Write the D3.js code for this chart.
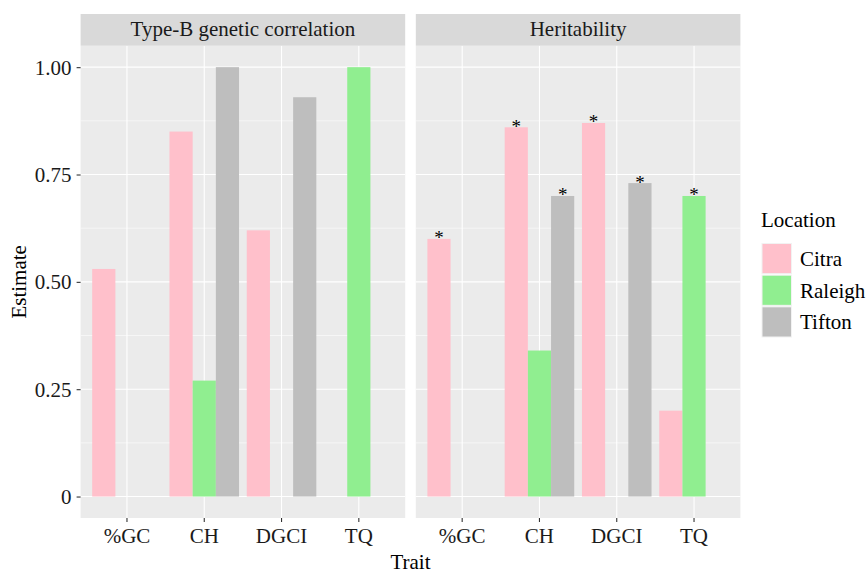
<!DOCTYPE html>
<html>
<head>
<meta charset="utf-8">
<script src="https://cdn.jsdelivr.net/npm/d3@7"></script>
<style>
html,body{margin:0;padding:0;background:#fff;}
</style>
</head>
<body>
<svg id="chart" width="867" height="573"></svg>
<script>
// ---- data ----
const traits = ["%GC", "CH", "DGCI", "TQ"];
const locations = ["Citra", "Raleigh", "Tifton"];
const facets = ["Type-B genetic correlation", "Heritability"];
const colors = ["#FFC0CB", "#90EE90", "#BEBEBE"];
// values by location, in trait order (null = no bar)
const typeB_Citra   = [0.53, 0.85, 0.62, null];
const typeB_Raleigh = [null, 0.27, null, 1.00];
const typeB_Tifton  = [null, 1.00, 0.93, null];
const herit_Citra   = [0.60, 0.86, 0.87, 0.20];
const herit_Raleigh = [null, 0.34, null, 0.70];
const herit_Tifton  = [null, 0.70, 0.73, null];
// significance labels
const typeB_sig_Citra   = ["", "", "", ""];
const typeB_sig_Raleigh = ["", "", "", ""];
const typeB_sig_Tifton  = ["", "", "", ""];
const herit_sig_Citra   = ["*", "*", "*", ""];
const herit_sig_Raleigh = ["", "", "", "*"];
const herit_sig_Tifton  = ["", "*", "*", ""];
const yTicks = [0, 0.25, 0.5, 0.75, 1.0];
const yTickLabels = ["0", "0.25", "0.50", "0.75", "1.00"];
const yMinor = [0.125, 0.375, 0.625, 0.875];

const facetValues = [
  [typeB_Citra, typeB_Raleigh, typeB_Tifton],
  [herit_Citra, herit_Raleigh, herit_Tifton]
];
const facetSig = [
  [typeB_sig_Citra, typeB_sig_Raleigh, typeB_sig_Tifton],
  [herit_sig_Citra, herit_sig_Raleigh, herit_sig_Tifton]
];

// ---- layout ----
const FONT = "'Liberation Serif', 'Times New Roman', Times, serif";
const svg = d3.select("#chart");
const FS = 21;
const panelTop = 45.7, panelBottom = 518;
const stripTop = 14;
const panelX = [80.6, 415.8];
const panelW = 324.6;

const y = d3.scaleLinear().domain([-0.05, 1.05]).range([panelBottom, panelTop]);

facets.forEach((fname, fi) => {
  const x0 = panelX[fi];
  const x = d3.scaleBand().domain(traits).range([x0, x0 + panelW])
    .paddingInner(0).paddingOuter(0.1);
  const step = x.step();
  const dodge = d3.scaleBand().domain(locations).range([-0.45 * step, 0.45 * step]);

  const g = svg.append("g");
  g.append("rect").attr("x", x0).attr("y", panelTop).attr("width", panelW)
    .attr("height", panelBottom - panelTop).attr("fill", "#EBEBEB");
  g.selectAll("line.minor").data(yMinor).enter().append("line")
    .attr("x1", x0).attr("x2", x0 + panelW)
    .attr("y1", d => y(d)).attr("y2", d => y(d))
    .attr("stroke", "#fff").attr("stroke-width", 0.55);
  g.selectAll("line.majy").data(yTicks).enter().append("line")
    .attr("x1", x0).attr("x2", x0 + panelW)
    .attr("y1", d => y(d)).attr("y2", d => y(d))
    .attr("stroke", "#fff").attr("stroke-width", 1.1);
  g.selectAll("line.majx").data(traits).enter().append("line")
    .attr("x1", d => x(d) + step / 2).attr("x2", d => x(d) + step / 2)
    .attr("y1", panelTop).attr("y2", panelBottom)
    .attr("stroke", "#fff").attr("stroke-width", 1.1);

  const bars = [];
  locations.forEach((loc, li) => {
    traits.forEach((t, ti) => {
      const v = facetValues[fi][li][ti];
      if (v !== null) bars.push({t, loc, li, v, sig: facetSig[fi][li][ti]});
    });
  });
  g.selectAll("rect.bar").data(bars).enter().append("rect")
    .attr("x", d => x(d.t) + step / 2 + dodge(d.loc))
    .attr("width", dodge.bandwidth())
    .attr("y", d => y(d.v))
    .attr("height", d => y(0) - y(d.v))
    .attr("fill", d => colors[d.li]);
  g.selectAll("text.sig").data(bars.filter(d => d.sig)).enter().append("text")
    .attr("class", "sig")
    .attr("x", d => x(d.t) + step / 2 + dodge(d.loc) + dodge.bandwidth() / 2)
    .attr("y", d => y(d.v) + 5.5)
    .attr("text-anchor", "middle")
    .attr("font-size", 19)
    .attr("fill", "#000")
    .text(d => d.sig);

  g.append("rect").attr("x", x0).attr("y", stripTop).attr("width", panelW)
    .attr("height", panelTop - stripTop).attr("fill", "#D9D9D9");
  g.append("text").attr("x", x0 + panelW / 2).attr("y", 36)
    .attr("text-anchor", "middle").attr("font-size", FS).attr("fill", "#1A1A1A")
    .text(fname);

  const xa = g.append("g").attr("transform", `translate(0,${panelBottom})`)
    .call(d3.axisBottom(x).tickSize(4).tickPadding(6));
  xa.select(".domain").remove();
  xa.selectAll("line").attr("stroke", "#333").attr("stroke-width", 1.1);
  xa.selectAll("text").attr("font-size", FS).attr("fill", "#1A1A1A").attr("dy", "0.72em");
});

const ya = svg.append("g").attr("transform", `translate(${panelX[0]},0)`)
  .call(d3.axisLeft(y).tickValues(yTicks).tickFormat((d, i) => yTickLabels[i])
    .tickSize(4).tickPadding(5));
ya.select(".domain").remove();
ya.selectAll("line").attr("stroke", "#333").attr("stroke-width", 1.1);
ya.selectAll("text").attr("font-size", FS).attr("fill", "#1A1A1A").attr("dy", "0.34em");

svg.append("text").attr("x", (panelX[0] + panelX[1] + panelW) / 2).attr("y", 569)
  .attr("text-anchor", "middle").attr("font-size", FS).text("Trait");
svg.append("text")
  .attr("transform", `translate(26,${(panelTop + panelBottom) / 2}) rotate(-90)`)
  .attr("text-anchor", "middle").attr("font-size", FS).text("Estimate");

const lg = svg.append("g");
lg.append("text").attr("x", 761).attr("y", 227).attr("font-size", FS).text("Location");
const keyY = d3.scaleBand().domain(locations).range([243, 338]).padding(0);
locations.forEach((loc, i) => {
  lg.append("rect").attr("x", 762).attr("y", keyY(loc) + 0.5)
    .attr("width", 29.5).attr("height", keyY.bandwidth() - 1.5)
    .attr("fill", colors[i]).attr("stroke", "#F2F2F2").attr("stroke-width", 1);
  lg.append("text").attr("x", 800).attr("y", keyY(loc) + keyY.bandwidth() / 2 + 7)
    .attr("font-size", FS).text(loc);
});

svg.selectAll("g").attr("font-family", null);
svg.selectAll("text").style("font-family", FONT);
</script>
</body>
</html>
